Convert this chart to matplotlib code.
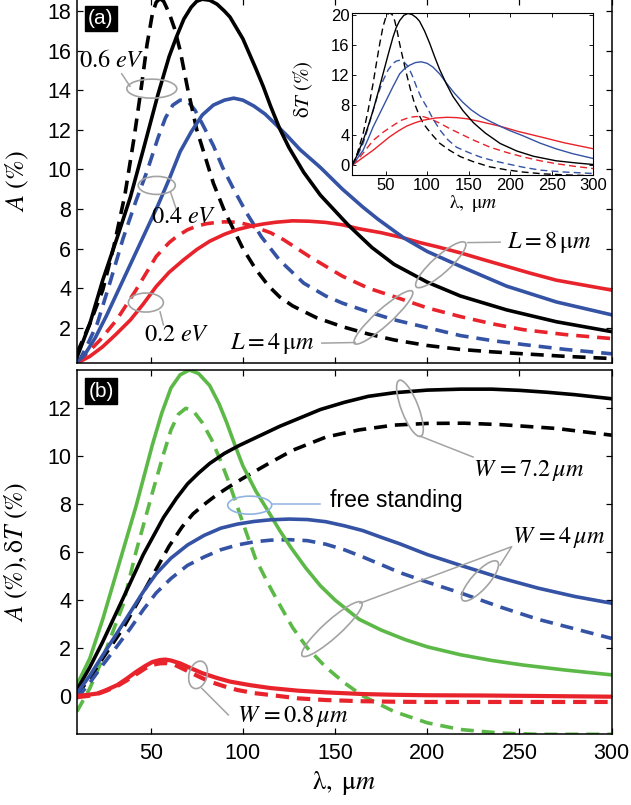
import numpy as np
import matplotlib.pyplot as plt
from matplotlib.patches import Ellipse
from matplotlib.transforms import ScaledTranslation

plt.rcParams['font.family'] = ['Liberation Sans', 'DejaVu Sans']
plt.rcParams['mathtext.fontset'] = 'stix'

# =========================================================
# DATA
# =========================================================

# ---- panel (a): absorption A (%) , solid L = 8 um, dashed L = 4 um
a_black_sol_x = [10, 17, 24, 32, 39, 46, 54, 60, 64, 68, 72, 75, 78, 82, 86, 90, 93, 100, 107, 111, 115, 120, 125, 133, 142, 157, 170, 182, 200, 218, 243, 270, 300]
a_black_sol_y = [0.5, 2.2, 4.4, 6.6, 8.6, 11.0, 13.8, 15.7, 16.7, 17.6, 18.2, 18.5, 18.6, 18.55, 18.35, 18.0, 17.7, 16.6, 15.1, 14.2, 13.2, 12.05, 11.1, 9.85, 8.7, 7.2, 6.05, 5.2, 4.3, 3.6, 2.9, 2.3, 1.8]

a_black_das_x = [10, 17, 24, 30, 36, 41, 45, 48, 51, 53, 55, 57, 60, 63, 66, 70, 75, 80, 84, 90, 95, 100, 107, 114, 120, 127, 140, 154, 168, 182, 200, 218, 235, 252, 275, 300]
a_black_das_y = [0.7, 2.2, 3.9, 6.1, 8.7, 11.6, 14.2, 16.3, 17.9, 18.45, 18.63, 18.5, 17.9, 17.1, 16.0, 14.1, 12.0, 10.5, 9.3, 7.9, 6.95, 6.0, 4.95, 4.1, 3.55, 3.1, 2.5, 2.05, 1.68, 1.38, 1.1, 0.9, 0.78, 0.68, 0.55, 0.44]

a_blue_sol_x = [10, 14, 20, 26, 33, 40, 47, 54, 60, 66, 72, 78, 84, 90, 95, 100, 106, 112, 117, 124, 131, 142, 154, 165, 173, 187, 200, 218, 243, 270, 300]
a_blue_sol_y = [0.27, 0.6, 1.5, 2.6, 4.0, 5.4, 6.8, 8.2, 9.5, 10.9, 11.9, 12.75, 13.25, 13.5, 13.6, 13.5, 13.2, 12.8, 12.35, 11.7, 11.0, 10.1, 9.0, 8.1, 7.5, 6.55, 5.85, 5.1, 4.1, 3.3, 2.65]

a_blue_das_x = [10, 12, 16, 21, 28, 35, 42, 48, 54, 58, 62, 66, 70, 74, 78, 84, 89, 95, 102, 110, 120, 133, 145, 154, 168, 182, 200, 218, 235, 252, 275, 300]
a_blue_das_y = [0.3, 0.46, 1.2, 2.2, 4.3, 6.5, 8.4, 9.9, 11.6, 12.6, 13.25, 13.5, 13.45, 13.0, 12.3, 11.2, 10.1, 9.0, 7.8, 6.6, 5.4, 4.25, 3.6, 3.24, 2.8, 2.4, 2.0, 1.6, 1.35, 1.15, 0.9, 0.68]

a_red_sol_x = [10, 17, 24, 31, 39, 46, 53, 60, 68, 75, 82, 90, 97, 104, 111, 118, 127, 136, 145, 154, 163, 175, 187, 196, 205, 218, 230, 243, 256, 270, 285, 300]
a_red_sol_y = [0.2, 0.55, 1.04, 1.65, 2.39, 3.2, 4.08, 4.8, 5.44, 5.95, 6.37, 6.72, 6.96, 7.12, 7.24, 7.33, 7.4, 7.38, 7.32, 7.2, 7.0, 6.8, 6.54, 6.3, 6.1, 5.78, 5.45, 5.1, 4.75, 4.4, 4.15, 3.9]

a_red_das_x = [10, 16, 22.5, 31.6, 42, 53, 60, 64, 70, 75, 80, 84, 90, 97, 103, 107.5, 115, 122, 136, 154, 168, 182, 200, 218, 235, 252, 275, 300]
a_red_das_y = [0.27, 0.75, 1.37, 2.4, 3.9, 5.6, 6.3, 6.6, 6.95, 7.13, 7.25, 7.3, 7.35, 7.33, 7.2, 7.05, 6.8, 6.45, 5.6, 4.6, 4.0, 3.57, 3.0, 2.56, 2.2, 1.9, 1.65, 1.45]

# ---- inset: delta T (%)
i_black_sol_x = [10, 16, 23, 29, 35, 41, 47, 53, 59, 63, 67, 72, 77, 82, 87, 91, 97, 103, 109, 115, 123, 131, 143, 156, 170, 188, 208, 228, 255, 280, 300]
i_black_sol_y = [0, 1.4, 3.3, 5.2, 7.3, 9.7, 12.2, 14.7, 17.1, 18.4, 19.3, 20.0, 20.25, 20.1, 19.7, 19.2, 17.9, 16.3, 14.5, 12.8, 10.9, 9.2, 7.3, 5.65, 4.3, 2.9, 1.9, 1.2, 0.6, 0.3, 0.1]

i_black_das_x = [10, 16, 23, 29, 35, 39, 43, 47, 51, 55, 58, 61, 64, 67, 71, 75, 80, 85, 90, 95, 100, 107, 115, 127, 140, 155, 175, 195, 215, 240, 270, 300]
i_black_das_y = [0, 1.6, 4.2, 7.3, 10.9, 13.6, 16.2, 18.5, 20.0, 20.35, 20.1, 19.3, 17.9, 16.2, 14.2, 12.3, 10.1, 8.2, 6.8, 5.65, 4.9, 3.95, 2.95, 2.0, 1.15, 0.5, -0.2, -0.6, -0.9, -1.15, -1.3, -1.4]

i_blue_sol_x = [10, 16, 23, 29, 35, 43, 51, 59, 67, 73, 79, 86, 93, 100, 107, 115, 123, 133, 143, 153, 164, 176, 188, 200, 215, 236, 255, 275, 300]
i_blue_sol_y = [0, 0.9, 2.0, 3.5, 5.1, 6.9, 8.7, 10.5, 12.2, 12.9, 13.35, 13.7, 13.8, 13.6, 13.1, 12.2, 11.0, 9.6, 8.4, 7.4, 6.55, 5.85, 5.2, 4.6, 3.95, 2.95, 2.2, 1.55, 0.9]

i_blue_das_x = [10, 16, 23, 29, 35, 41, 47, 53, 59, 63, 67, 72, 77, 82, 87.5, 93, 99.5, 107, 115.5, 125, 135.5, 150, 164, 180, 196, 215, 236, 265, 300]
i_blue_das_y = [0, 1.2, 2.9, 5.0, 7.3, 9.5, 11.3, 12.7, 13.6, 13.9, 14.0, 13.8, 13.2, 12.0, 10.4, 9.0, 7.8, 6.2, 4.7, 3.4, 2.4, 1.7, 1.1, 0.6, 0.2, -0.25, -0.65, -0.9, -1.1]

i_red_sol_x = [10, 20, 35, 45, 55, 65, 75, 85, 95, 110, 124, 136, 148, 165, 188, 210, 236, 265, 300]
i_red_sol_y = [0, 0.8, 2.0, 2.9, 3.8, 4.55, 5.2, 5.65, 6.0, 6.3, 6.4, 6.35, 6.2, 5.8, 5.2, 4.5, 3.8, 3.0, 2.2]

i_red_das_x = [10, 20, 35, 47, 59, 69, 79, 87, 95, 105, 115.5, 127, 140, 157, 176, 196, 216, 236, 256, 278, 300]
i_red_das_y = [0, 1.2, 3.3, 4.4, 5.3, 6.0, 6.4, 6.5, 6.5, 6.15, 5.6, 4.9, 4.2, 3.3, 2.4, 1.7, 1.1, 0.6, 0.2, -0.15, -0.44]

# ---- panel (b): A (%) solid, delta T (%) dashed, for several W
b_green_sol_x = [10, 17, 24, 33, 42, 51, 56, 61, 66, 71, 76, 82, 87, 91, 96, 100, 107, 113, 120, 126, 134, 142, 150, 163, 175, 188, 200, 218, 235, 252, 275, 300]
b_green_sol_y = [0.46, 1.57, 3.2, 5.55, 7.9, 10.5, 11.8, 12.85, 13.4, 13.6, 13.45, 12.95, 12.2, 11.45, 10.4, 9.6, 8.55, 7.8, 6.9, 6.2, 5.35, 4.6, 4.0, 3.2, 2.75, 2.35, 2.05, 1.72, 1.48, 1.29, 1.08, 0.88]

b_green_das_x = [10, 17, 24, 35, 42, 51, 57, 61, 65, 69, 73, 78, 83, 88, 92, 97, 101, 107, 115, 120, 127, 135, 145, 155, 165, 182, 200, 218, 240, 260, 300]
b_green_das_y = [-0.65, 0.32, 1.57, 3.8, 6.0, 8.5, 10.1, 11.1, 11.75, 12.0, 11.9, 11.4, 10.7, 9.8, 9.0, 7.9, 7.0, 5.7, 4.5, 3.8, 2.85, 2.0, 1.2, 0.55, 0.0, -0.65, -1.12, -1.4, -1.55, -1.6, -1.6]

b_black_sol_x = [10, 17, 24, 35, 46, 57, 64, 70, 76, 82, 90, 98, 109, 120, 131, 142, 155, 168, 182, 200, 218, 235, 250, 265, 280, 300]
b_black_sol_y = [0.25, 1.2, 2.26, 4.07, 5.9, 7.45, 8.25, 8.85, 9.3, 9.7, 10.12, 10.45, 10.85, 11.25, 11.6, 11.95, 12.25, 12.5, 12.65, 12.76, 12.8, 12.8, 12.75, 12.67, 12.57, 12.4]

b_black_das_x = [10, 17, 24, 35, 48, 60, 67, 73, 80, 86, 93, 100, 114, 127, 145, 163, 182, 200, 220, 240, 270, 300]
b_black_das_y = [0.04, 0.75, 1.57, 2.82, 4.6, 6.25, 7.05, 7.6, 8.05, 8.4, 8.75, 9.08, 9.7, 10.25, 10.8, 11.1, 11.3, 11.37, 11.38, 11.32, 11.16, 10.88]

b_blue_sol_x = [10, 17, 24, 32, 39, 46, 53, 61, 70, 79, 88, 97, 106, 115, 125, 135, 145, 155, 165, 175, 185, 200, 218, 240, 260, 280, 300]
b_blue_sol_y = [0.11, 0.85, 1.7, 2.65, 3.5, 4.35, 5.1, 5.75, 6.3, 6.7, 7.0, 7.17, 7.28, 7.35, 7.38, 7.36, 7.27, 7.1, 6.9, 6.62, 6.35, 5.9, 5.45, 4.92, 4.5, 4.15, 3.87]

b_blue_das_x = [10, 17, 24, 32, 39, 46, 53, 61, 70, 79, 88, 97, 106, 115, 125, 135, 145, 155, 165, 175, 185, 200, 218, 240, 260, 280, 300]
b_blue_das_y = [-0.1, 0.55, 1.29, 2.1, 2.82, 3.6, 4.3, 4.9, 5.45, 5.8, 6.1, 6.3, 6.43, 6.5, 6.52, 6.48, 6.33, 6.1, 5.8, 5.48, 5.15, 4.75, 4.3, 3.7, 3.2, 2.8, 2.4]

b_red_sol_x = [10, 16, 21, 26, 32, 37, 42, 47, 51, 55, 58, 61, 66, 72, 78, 86, 93, 104, 115, 130, 145, 165, 182, 200, 230, 260, 300]
b_red_sol_y = [0.0, 0.05, 0.1, 0.25, 0.46, 0.72, 1.0, 1.25, 1.42, 1.5, 1.52, 1.48, 1.36, 1.15, 0.95, 0.75, 0.6, 0.45, 0.33, 0.22, 0.15, 0.08, 0.05, 0.03, 0.02, 0.0, -0.03]

b_red_das_x = [10, 16, 21, 26, 32, 37, 42, 47, 51, 55, 59, 63, 69, 75, 82, 90, 97, 106, 115, 130, 145, 165, 182, 200, 230, 260, 300]
b_red_das_y = [-0.05, 0.0, 0.08, 0.22, 0.42, 0.65, 0.9, 1.15, 1.3, 1.36, 1.37, 1.3, 1.08, 0.85, 0.6, 0.4, 0.25, 0.12, 0.04, -0.1, -0.17, -0.22, -0.24, -0.25, -0.25, -0.25, -0.25]

main_xticks = [50, 100, 150, 200, 250, 300]
a_yticks = [2, 4, 6, 8, 10, 12, 14, 16, 18]
b_yticks = [0, 2, 4, 6, 8, 10, 12]
i_yticks = [0, 4, 8, 12, 16, 20]

# =========================================================
# STYLE
# =========================================================

BLACK = "black"
BLUE = "#3553a4"
RED = "#e8232b"
GREEN = "#5cb947"
GRAY = "#a3a3a3"
LIGHTBLUE = "#8fb3e0"
DASH = (3.6, 2.2)

fig = plt.figure(figsize=(6.31, 8.05), dpi=100)

ax1 = fig.add_axes([0.1219, 0.5487, 0.8475, 0.4530])
ax2 = fig.add_axes([0.1219, 0.0878, 0.8475, 0.4526])
ax3 = fig.add_axes([0.5583, 0.7826, 0.3820, 0.2016])


def style_axes(ax, size, lw=1.1, length=4):
    ax.tick_params(direction="in", top=True, right=True, length=length,
                   width=lw * 0.8, labelsize=size, pad=4)
    for sp in ax.spines.values():
        sp.set_linewidth(lw)


def oval(ax, x, y, w, h, ang, color=GRAY):
    # ellipse centred on a data point, size in inches
    tr = fig.dpi_scale_trans + ScaledTranslation(x, y, ax.transData)
    ax.add_patch(Ellipse((0, 0), w, h, angle=ang, transform=tr, fill=False,
                         ec=color, lw=1.2, clip_on=False, zorder=5))


def leader(ax, xs, ys, color=GRAY):
    ax.plot(xs, ys, color=color, lw=1.1, clip_on=False, zorder=5)


# =========================================================
# PANEL (a)
# =========================================================

LW = 2.6
ax1.plot(a_red_das_x, a_red_das_y, color=RED, lw=LW, ls="--", dashes=DASH)
ax1.plot(a_blue_das_x, a_blue_das_y, color=BLUE, lw=LW, ls="--", dashes=DASH)
ax1.plot(a_black_das_x, a_black_das_y, color=BLACK, lw=LW, ls="--", dashes=DASH)
ax1.plot(a_red_sol_x, a_red_sol_y, color=RED, lw=LW)
ax1.plot(a_blue_sol_x, a_blue_sol_y, color=BLUE, lw=LW)
ax1.plot(a_black_sol_x, a_black_sol_y, color=BLACK, lw=LW)

ax1.set_xlim(10, 300)
ax1.set_ylim(0.2, 18.63)
ax1.set_xticks(main_xticks)
ax1.set_xticklabels([])
ax1.set_yticks(a_yticks)
style_axes(ax1, 15.5)
ax1.set_ylabel(r"$A\ \mathrm{(\%)}$", fontsize=19)
ax1.yaxis.set_label_coords(-0.085, 0.5)

ax1.text(0.045, 0.945, "(a)", transform=ax1.transAxes, color="white",
         fontsize=15, ha="center", va="center",
         bbox=dict(boxstyle="square,pad=0.15", fc="black", ec="black"))

serif = dict(fontsize=17.5, ha="center", va="center", zorder=6)
ax1.text(29, 15.5, r"$\mathrm{0.6}\ eV$", **serif)
oval(ax1, 50.6, 14.08, 0.50, 0.19, 0)
leader(ax1, [34.3, 38.8], [14.83, 14.2])

ax1.text(68, 7.6, r"$\mathrm{0.4}\ eV$", **serif)
oval(ax1, 53.3, 9.19, 0.37, 0.18, 0)
leader(ax1, [60.9, 64.0], [8.82, 7.95])

ax1.text(64, 1.63, r"$\mathrm{0.2}\ eV$", **serif)
oval(ax1, 47.4, 3.27, 0.35, 0.19, 0)
leader(ax1, [55.1, 56.9], [2.8, 2.14])

ax1.text(116, 1.22, r"$L = 4\,\mathrm{\mu}m$", **serif)
oval(ax1, 176.2, 2.52, 0.78, 0.16, 42)
leader(ax1, [142.8, 161.0], [1.22, 1.25])

ax1.text(266, 6.32, r"$L = 8\,\mathrm{\mu}m$", **serif)
oval(ax1, 207.3, 5.18, 0.66, 0.17, 42)
leader(ax1, [239.5, 222.0], [6.32, 6.3])

# =========================================================
# INSET
# =========================================================

ILW = 1.0
IDASH = (5, 3)
ax3.plot(i_red_das_x, i_red_das_y, color=RED, lw=ILW, ls="--", dashes=IDASH)
ax3.plot(i_blue_das_x, i_blue_das_y, color=BLUE, lw=ILW, ls="--", dashes=IDASH)
ax3.plot(i_black_das_x, i_black_das_y, color=BLACK, lw=ILW, ls="--", dashes=IDASH)
ax3.plot(i_red_sol_x, i_red_sol_y, color=RED, lw=ILW)
ax3.plot(i_blue_sol_x, i_blue_sol_y, color=BLUE, lw=ILW)
ax3.plot(i_black_sol_x, i_black_sol_y, color=BLACK, lw=ILW)
ax3.set_xlim(10, 300)
ax3.set_ylim(-1.3, 20.35)
ax3.set_xticks(main_xticks)
ax3.set_yticks(i_yticks)
style_axes(ax3, 12, lw=0.8, length=3)
ax3.tick_params(pad=2)
ax3.set_ylabel(r"$\mathrm{\delta}T\ \mathrm{(\%)}$", fontsize=15, labelpad=0)
ax3.yaxis.set_label_coords(-0.155, 0.53)
ax3.set_xlabel(r"$\mathrm{\lambda},\ \mathrm{\mu}m$", fontsize=14, labelpad=0)

# =========================================================
# PANEL (b)
# =========================================================

ax2.plot(b_green_das_x, b_green_das_y, color=GREEN, lw=LW, ls="--", dashes=DASH)
ax2.plot(b_black_das_x, b_black_das_y, color=BLACK, lw=LW, ls="--", dashes=DASH)
ax2.plot(b_blue_das_x, b_blue_das_y, color=BLUE, lw=LW, ls="--", dashes=DASH)
ax2.plot(b_red_das_x, b_red_das_y, color=RED, lw=3.0, ls="--", dashes=(3.2, 1.9))
ax2.plot(b_green_sol_x, b_green_sol_y, color=GREEN, lw=LW)
ax2.plot(b_black_sol_x, b_black_sol_y, color=BLACK, lw=LW)
ax2.plot(b_blue_sol_x, b_blue_sol_y, color=BLUE, lw=LW)
ax2.plot(b_red_sol_x, b_red_sol_y, color=RED, lw=3.0)

ax2.set_xlim(10, 300)
ax2.set_ylim(-1.6, 13.6)
ax2.set_xticks(main_xticks)
ax2.set_yticks(b_yticks)
style_axes(ax2, 15.5)
ax2.tick_params(axis="x", pad=6)
ax2.set_ylabel(r"$A\ \mathrm{(\%)},\mathrm{\delta}T\ \mathrm{(\%)}$", fontsize=18.5)
ax2.yaxis.set_label_coords(-0.088, 0.5)
ax2.set_xlabel(r"$\mathrm{\lambda},\ \mathrm{\mu}m$", fontsize=19, labelpad=4)

ax2.text(0.045, 0.942, "(b)", transform=ax2.transAxes, color="white",
         fontsize=15, ha="center", va="center",
         bbox=dict(boxstyle="square,pad=0.15", fc="black", ec="black"))

ax2.text(147.2, 8.17, "free standing", fontsize=16.5, ha="left", va="center")
oval(ax2, 103.7, 7.96, 0.44, 0.18, 0, color=LIGHTBLUE)
leader(ax2, [115.6, 141.8], [7.99, 7.99], color=LIGHTBLUE)

ax2.text(224.8, 9.42, r"$W\,=7.2\,\mu m$", fontsize=17.5, ha="left", va="center")
oval(ax2, 190.6, 12.0, 0.60, 0.17, -69)
leader(ax2, [196.1, 224.8], [10.84, 9.97])

ax2.text(245.8, 6.6, r"$W\,=4\,\mu m$", fontsize=17.5, ha="left", va="center")
oval(ax2, 228.6, 4.8, 0.52, 0.17, 48)
oval(ax2, 148.3, 2.79, 0.80, 0.17, 42)
leader(ax2, [239.5, 245.8, 163.5], [5.46, 6.23, 3.87])

ax2.text(96.7, -0.85, r"$W\,=0.8\,\mu m$", fontsize=17.5, ha="left", va="center")
oval(ax2, 75.7, 0.88, 0.28, 0.18, 75)
leader(ax2, [77.7, 92.1], [0.32, -0.79])

fig.savefig("out.png", dpi=100)
